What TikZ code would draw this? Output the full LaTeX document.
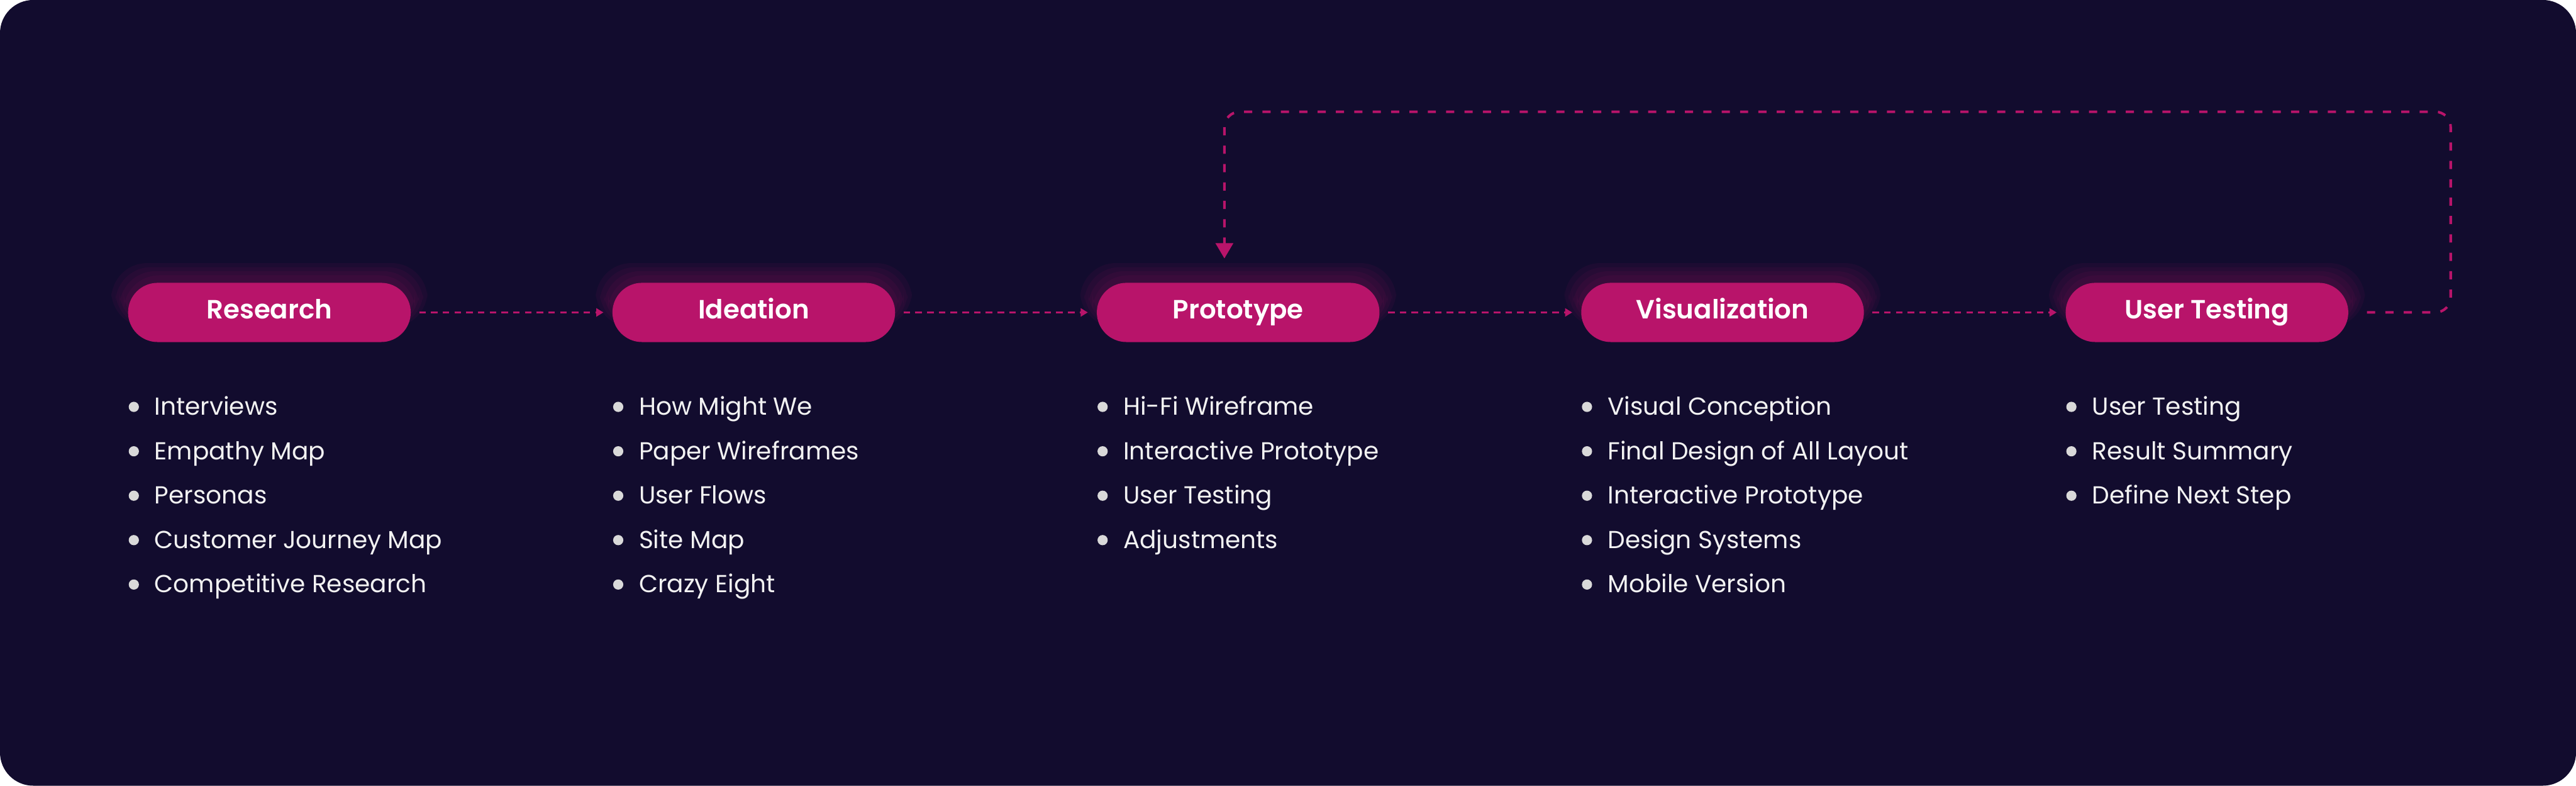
\documentclass[tikz,border=0pt]{standalone}
\usepackage{fontspec}
\setmainfont{Poppins}
\newfontfamily\titlefont{Poppins}[UprightFont=* SemiBold,BoldFont=* SemiBold]
\usetikzlibrary{arrows.meta,positioning,calc,backgrounds}
\definecolor{uxbg}{HTML}{120C2E}
\definecolor{uxpink}{HTML}{B8146A}
\definecolor{uxdot}{HTML}{D9D9D9}
\definecolor{uxtext}{HTML}{F2F2F2}

\begin{document}
\begin{tikzpicture}[
      pill/.style={fill=uxpink,rounded corners=0.58cm,minimum width=5.54cm,minimum height=1.16cm,
        inner sep=0pt,text=white,font=\fontsize{14.7}{16}\titlefont,text height=0.7em,text depth=0pt},
      item/.style={anchor=base west,inner sep=0pt,text=uxtext,font=\fontsize{13.7}{15}\selectfont},
      dot/.style={fill=uxdot},
      arr/.style={-{Triangle[length=0.14cm,width=0.16cm]},draw=uxpink,line width=0.035cm,
        dash pattern=on 0.13cm off 0.10cm,shorten <=0.16cm,shorten >=0.17cm},
      back/.style={-{Triangle[length=0.3cm,width=0.34cm]},draw=uxpink,line width=0.05cm,
        dash pattern=on 0.16cm off 0.2cm,rounded corners=0.3cm}]
    \useasboundingbox (0,0) rectangle (50.49,15.39);
    % phases
    \node[pill] (res) at (5.28,9.27) {Research};
    \node[pill,right=3.94cm of res] (ide) {Ideation};
    \node[pill,right=3.94cm of ide] (pro) {Prototype};
    \node[pill,right=3.94cm of pro] (vis) {Visualization};
    \node[pill,right=3.94cm of vis] (ust) {User Testing};
    \begin{scope}[on background layer]
      \fill[white] (0,0) rectangle (50.49,15.39);
      \fill[uxbg,rounded corners=0.65cm] (0,0) rectangle (50.49,15.39);
      \foreach \p in {res,ide,pro,vis,ust}
        \foreach \g in {0.08,0.16,0.24,0.32}
          \fill[uxpink,opacity=0.07,rounded corners=0.7cm]
            ($(\p.south west)+(-\g,0.3)$) rectangle ($(\p.north east)+(\g,{0.06+\g})$);
    \end{scope}
    % flow
    \draw[arr] (res) -- (ide);
    \draw[arr] (ide) -- (pro);
    \draw[arr] (pro) -- (vis);
    \draw[arr] (vis) -- (ust);
    \draw[back] ([xshift=0.36cm]ust.east) -- ++(1.64,0) -- ++(0,3.93)
      -| ([xshift=-0.27cm,yshift=0.47cm]pro.north);
    % tasks
    \foreach \t [count=\i] in {Interviews,Empathy Map,Personas,Customer Journey Map,Competitive Research} {
      \node[item] (res-\i) at ($(res.west)+(0.52,{-1.14-0.87*\i})$) {\t};
      \fill[dot] ($(res-\i.base west)+(-0.40,0.16)$) circle (0.1cm);
    }
    \foreach \t [count=\i] in {How Might We,Paper Wireframes,User Flows,Site Map,Crazy Eight} {
      \node[item] (ide-\i) at ($(ide.west)+(0.52,{-1.14-0.87*\i})$) {\t};
      \fill[dot] ($(ide-\i.base west)+(-0.40,0.16)$) circle (0.1cm);
    }
    \foreach \t [count=\i] in {Hi-Fi Wireframe,Interactive Prototype,User Testing,Adjustments} {
      \node[item] (pro-\i) at ($(pro.west)+(0.52,{-1.14-0.87*\i})$) {\t};
      \fill[dot] ($(pro-\i.base west)+(-0.40,0.16)$) circle (0.1cm);
    }
    \foreach \t [count=\i] in {Visual Conception,Final Design of All Layout,Interactive Prototype,Design Systems,Mobile Version} {
      \node[item] (vis-\i) at ($(vis.west)+(0.52,{-1.14-0.87*\i})$) {\t};
      \fill[dot] ($(vis-\i.base west)+(-0.40,0.16)$) circle (0.1cm);
    }
    \foreach \t [count=\i] in {User Testing,Result Summary,Define Next Step} {
      \node[item] (ust-\i) at ($(ust.west)+(0.52,{-1.14-0.87*\i})$) {\t};
      \fill[dot] ($(ust-\i.base west)+(-0.40,0.16)$) circle (0.1cm);
    }
  \end{tikzpicture}
\end{document}
